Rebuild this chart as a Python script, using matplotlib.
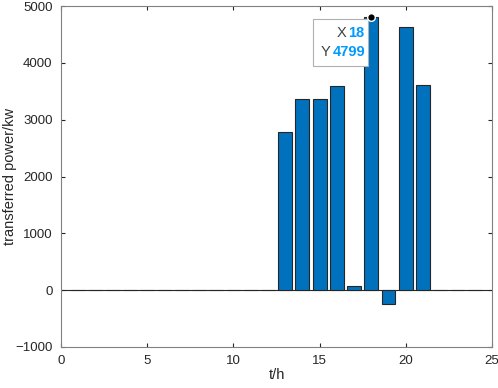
import numpy as np
import matplotlib.pyplot as plt

plt.rcParams['font.family'] = ['Liberation Sans', 'DejaVu Sans']

hours = np.arange(1, 25)
power = [0, 0, 0, 0, 0, 0, 0, 0, 0, 0, 0, 0,
         2785, 3360, 3360, 3590, 70, 4799, -245, 4630, 3605, 0, 0, 0]
tip_x, tip_y = 18, 4799

fig = plt.figure(figsize=(4.98, 3.88), dpi=100)
ax = fig.add_axes([0.1225, 0.1057, 0.8655, 0.8788])

ax.axhline(0, color='#262626', linewidth=0.8, zorder=1)
ax.bar(hours, power, width=0.8, color='#0072BD', edgecolor='#262626', linewidth=0.8, zorder=2)
ax.set_xlim(0, 25)
ax.set_ylim(-1000, 5000)
ax.set_xticks([0, 5, 10, 15, 20, 25])
ax.set_yticks(np.arange(-1000, 5001, 1000))
ax.tick_params(direction='in', length=3, colors='#262626', labelsize=9.5, top=True, right=True,
               labeltop=False, labelright=False, pad=6)
for s in ax.spines.values():
    s.set_color('#808080')
    s.set_linewidth(0.8)
ax.set_xlabel('t/h', fontsize=10.5, color='#262626')
ax.set_ylabel('transferred power/kw', fontsize=10.5, color='#262626')
ax.xaxis.set_label_coords(0.5, -0.062)
ax.yaxis.set_label_coords(-0.103, 0.5)

# data tip
box = plt.Rectangle((14.6, 3944), 3.2, 827, facecolor='white', edgecolor='#b0b0b0',
                    linewidth=0.8, zorder=4)
ax.add_patch(box)
ax.plot(tip_x, tip_y, 'o', color='k', markeredgecolor='w', markersize=5.5, zorder=5)
ax.text(16.55, 4525, 'X', ha='right', va='center', fontsize=10.5, color='#404040', zorder=6)
ax.text(16.68, 4525, f'{tip_x}', ha='left', va='center', fontsize=10.5,
        color='#0099FF', fontweight='bold', zorder=6)
ax.text(15.62, 4190, 'Y', ha='right', va='center', fontsize=10.5, color='#404040', zorder=6)
ax.text(15.75, 4190, f'{tip_y}', ha='left', va='center', fontsize=10.5,
        color='#0099FF', fontweight='bold', zorder=6)

fig.savefig('out.png', dpi=100)
